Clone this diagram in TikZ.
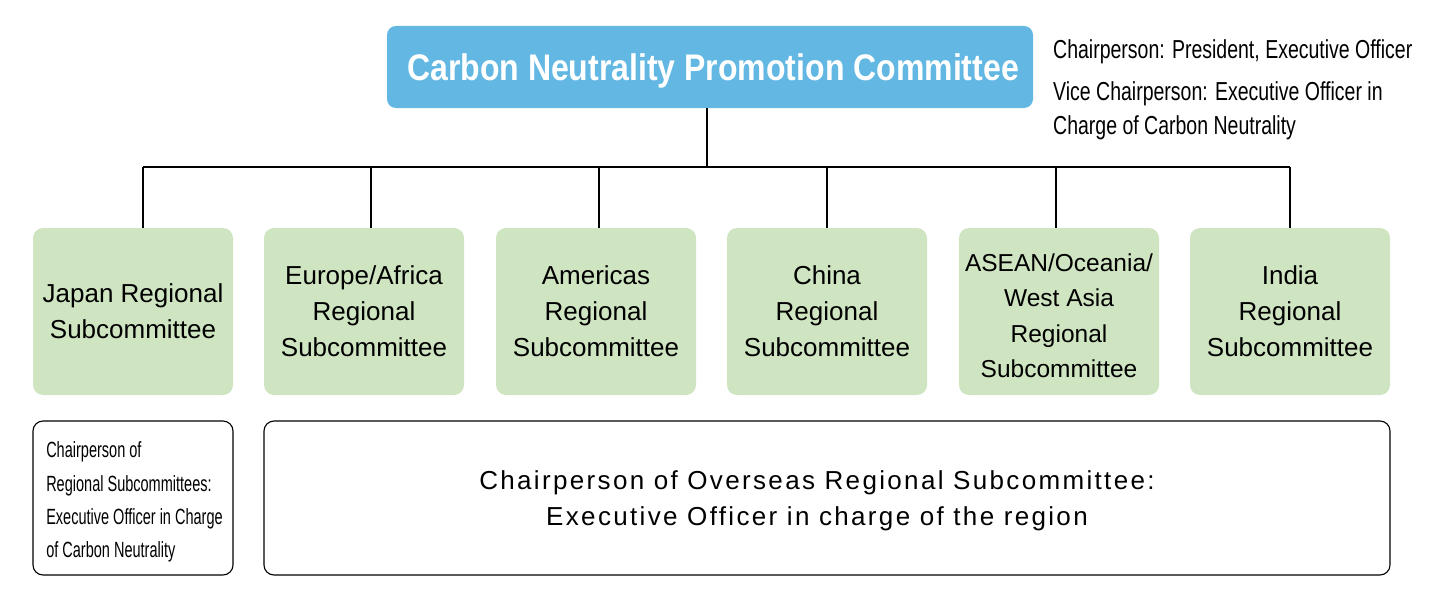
\documentclass[tikz,border=0pt]{standalone}
\usepackage{fontspec}
\setmainfont{Liberation Sans}
\newfontfamily\titlefont[FakeStretch=0.865]{Liberation Sans}
\newfontfamily\narrowfont[FakeStretch=0.75]{Liberation Sans}
\newfontfamily\narrowerfont[FakeStretch=0.66]{Liberation Sans}
\newfontfamily\spacedfont[LetterSpace=9]{Liberation Sans}
\definecolor{topblue}{RGB}{98,184,227}
\definecolor{regiongreen}{RGB}{207,229,193}
\tikzset{
  topbox/.style={fill=topblue, rounded corners=9pt, minimum width=646pt, minimum height=82pt,
    inner sep=0pt, text depth=0pt, text=white, font=\titlefont\bfseries\fontsize{37}{40}\selectfont},
  note/.style={inner sep=0pt, anchor=base west, font=\narrowfont\fontsize{26}{30}\selectfont},
  region/.style={fill=regiongreen, rounded corners=10pt, minimum width=200pt, minimum height=167pt,
    inner sep=0pt, align=center, font=\fontsize{26}{36}\selectfont},
  chairbox/.style={draw=black, line width=1.1pt, rounded corners=10pt, minimum height=154pt, inner sep=0pt},
  link/.style={draw=black, line width=2pt},
}
\begin{document}
\begin{tikzpicture}[x=1pt, y=-1pt]
\useasboundingbox (0,0) rectangle (1453,602);
\fill[white] (0,0) rectangle (1453,602);

\node[topbox] (top) at (710,67) {\hspace*{6pt}Carbon Neutrality Promotion Committee};
\node[note] (chair) at (1053,59) {Chairperson: President, Executive Officer};
\node[note] (vice1) at (1053,100) {Vice Chairperson: Executive Officer in};
\node[note] (vice2) at (1053,134) {Charge of Carbon Neutrality};

\node[region] (japan) at (133,311.5) {Japan Regional\\Subcommittee};
\node[region] (europe) at (364,311.5) {Europe/Africa\\Regional\\Subcommittee};
\node[region] (americas) at (596,311.5) {Americas\\Regional\\Subcommittee};
\node[region] (china) at (827,311.5) {China\\Regional\\Subcommittee};
\node[region, font=\fontsize{24.5}{35.5}\selectfont] (asean) at (1059,311.5) {\rule{0pt}{26pt}ASEAN/Oceania/\\West Asia\\Regional\\Subcommittee};
\node[region] (india) at (1290,311.5) {India\\Regional\\Subcommittee};

\coordinate (bar) at (707,167);
\coordinate (barL) at (143,167);
\coordinate (barR) at (1290,167);
\path[link] ([xshift=-3pt]top.south) -- ([xshift=-3pt]top.south |- bar);
\path[link] (barL) -- (barR);
\path[link] ([xshift=10pt]japan.north |- bar) -- ([xshift=10pt]japan.north);
\path[link] ([xshift=7pt]europe.north |- bar) -- ([xshift=7pt]europe.north);
\path[link] ([xshift=3pt]americas.north |- bar) -- ([xshift=3pt]americas.north);
\path[link] (china.north |- bar) -- (china.north);
\path[link] ([xshift=-3pt]asean.north |- bar) -- ([xshift=-3pt]asean.north);
\path[link] (india.north |- bar) -- (india.north);

\node[chairbox, minimum width=200pt] (jchair) at (133,498) {};
\node[inner sep=0pt, align=left, font=\narrowerfont\fontsize{22}{33.3}\selectfont] (jchairtext) at (134.5,502)
  {Chairperson of\\Regional Subcommittees:\\Executive Officer in Charge\\of Carbon Neutrality};
\node[chairbox, minimum width=1126pt] (ochair) at (827,498) {};
\node[inner sep=0pt, align=center, font=\spacedfont\fontsize{26}{36}\selectfont] (ochairtext) at (817,501)
  {Chairperson of Overseas Regional Subcommittee:\\Executive Officer in charge of the region};
\end{tikzpicture}
\end{document}
